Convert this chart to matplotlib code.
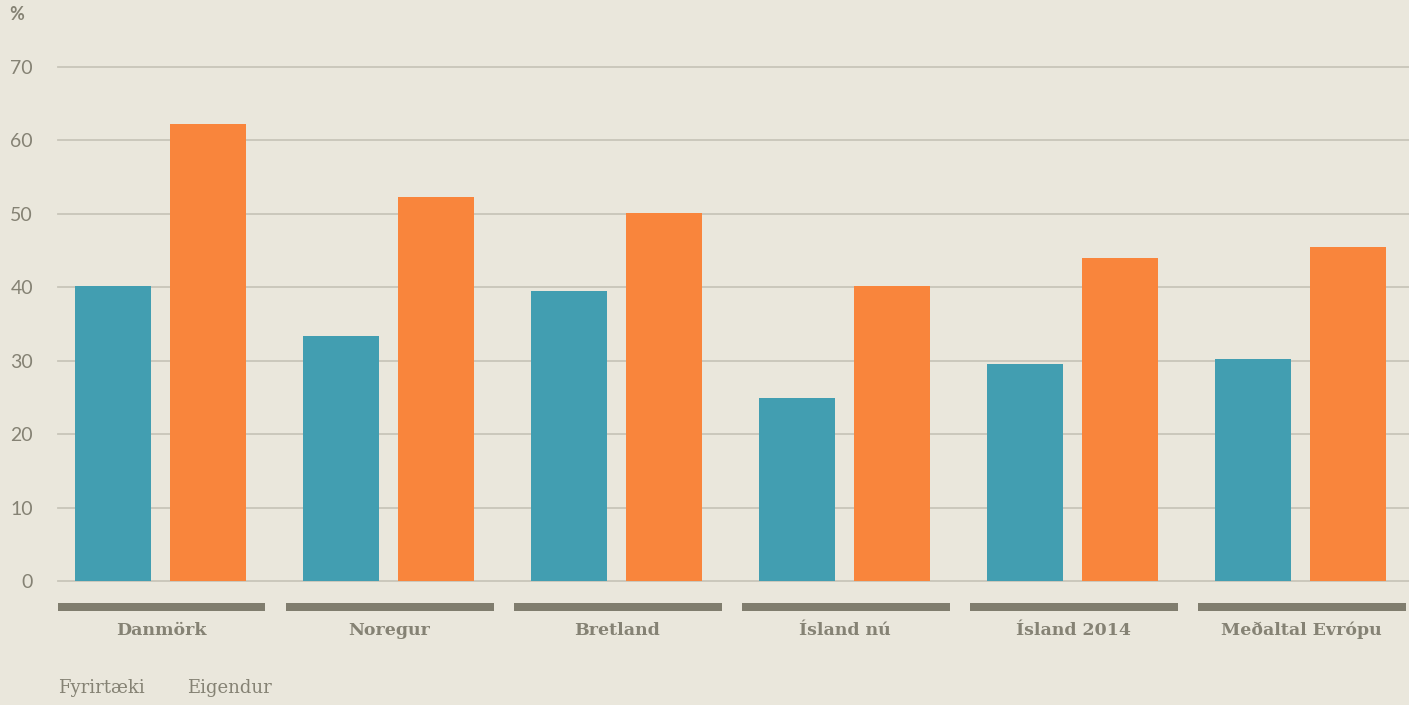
import matplotlib
matplotlib.use("Agg")
import matplotlib.pyplot as plt
import numpy as np

categories = ["Danmörk", "Noregur", "Bretland", "Ísland nú", "Ísland 2014", "Meðaltal Evrópu"]
fyrirtaeki = [40.2, 33.4, 39.5, 24.9, 29.6, 30.2]
eigendur = [62.2, 52.3, 50.1, 40.2, 44.0, 45.5]
yticks = [0, 10, 20, 30, 40, 50, 60, 70]
series_names = ["Fyrirtæki", "Eigendur"]

BG = "#eae7dc"
BLUE = "#429eb1"
ORANGE = "#f9853c"
GRAYBAR = "#807d6e"
TXT = "#858274"
GRID = "#c8c5b9"

W, H = 1409, 705
fig = plt.figure(figsize=(W / 100, H / 100), dpi=100, facecolor=BG)
ax = fig.add_axes([58 / W, (H - 581) / H, 1351 / W, 514 / H])
ax.set_facecolor(BG)
for s in ax.spines.values():
    s.set_visible(False)

x = np.arange(len(categories))
bw = 0.333
ax.bar(x - 0.211, fyrirtaeki, width=bw, color=BLUE, zorder=3)
ax.bar(x + 0.206, eigendur, width=bw, color=ORANGE, zorder=3)

ax.set_xlim(-0.452, 5.473)
ax.set_ylim(0, 70)
ax.set_yticks(yticks)
ax.set_yticklabels([str(v) for v in yticks], fontsize=14, color=TXT, family="Lato")
ax.tick_params(axis="y", length=0, pad=18)
ax.tick_params(axis="x", length=0, labelbottom=False)
ax.set_xticks([])
for v in yticks:
    ax.axhline(v, color=GRID, lw=1.3, zorder=1, clip_on=False)

# gray category bars below axis
ax.bar(x + 0.003, 1.1, width=0.91, bottom=-4.1, color=GRAYBAR, clip_on=False, zorder=3)
for xi, c in zip(x, categories):
    ax.text(xi, -6.75, c, ha="center", va="center", fontsize=12.5, fontweight="heavy",
            family="DejaVu Serif", color=TXT)

# % label
fig.text(9 / W, 1 - 14 / H, "%", fontsize=13, fontweight="bold", color=TXT,
         family="Lato", ha="left", va="center")

# legend text
fig.text(58 / W, 1 - 688 / H, series_names[0], fontsize=13, color=TXT,
         family="DejaVu Serif", ha="left", va="center")
fig.text(187 / W, 1 - 688 / H, series_names[1], fontsize=13, color=TXT,
         family="DejaVu Serif", ha="left", va="center")

fig.savefig("out.png", dpi=100, facecolor=BG)
